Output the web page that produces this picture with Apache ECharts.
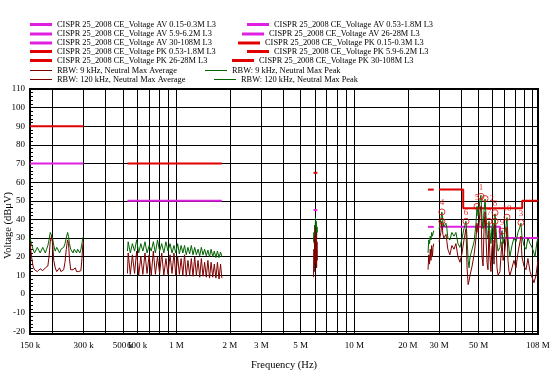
<!DOCTYPE html>
<html><head><meta charset="utf-8">
<script src="https://cdn.jsdelivr.net/npm/echarts@6/dist/echarts.min.js"></script>
<style>html,body{margin:0;padding:0;background:#fff}#c{width:555px;height:372px}</style>
</head><body><div id="c"></div>
<script>
// ---------------- DATA ----------------
// Axis ticks
const xGridMHz = [0.2,0.3,0.4,0.5,0.6,0.7,0.8,0.9,1,2,3,4,5,6,7,8,9,10,20,30,40,50,60,70,80,90,100];
const xTickMHz = [0.15,0.3,0.5,0.6,1,2,3,5,10,20,30,50,108];
const xTickLabels = ['150 k','300 k','500 k','600 k','1 M','2 M','3 M','5 M','10 M','20 M','30 M','50 M','108 M'];
const yTicks = [-20,-10,0,10,20,30,40,50,60,70,80,90,100,110];

// Limit lines (frequency MHz, level dBuV)
const limAV015_f = [0.15,0.3],  limAV015_v = [70,70];
const limPK015_f = [0.15,0.3],  limPK015_v = [90,90];
const limAV053_f = [0.53,1.8],  limAV053_v = [50,50];
const limPK053_f = [0.53,1.8],  limPK053_v = [70,70];
const limAV59_f  = [5.9,6.2],   limAV59_v  = [45,45];
const limPK59_f  = [5.9,6.2],   limPK59_v  = [65,65];
const limAV26_f  = [26,28],     limAV26_v  = [36,36];
const limPK26_f  = [26,28],     limPK26_v  = [56,56];
const limAV30_f  = [30,66,66,108],            limAV30_v = [36,36,30,30];
const limPK30_f  = [30,41,41,88,88,108],      limPK30_v = [56,56,46,46,50,50];

// RBW 9 kHz, 150-300 kHz (kHz)
const segA_f = [150,153,156,159,162,165,168,171,174,177,180,183,186,189,192,195,198,201,204,208,212,216,220,224,228,232,236,240,244,247,250,254,258,262,266,270,274,278,282,286,290,294,297,300];
const segA_pk = [30,27,24,22,23,25,24,22,23,25,24,22,24,26,29,33,34,30,26,23,25,24,22,24,23,25,27,30,33,31,27,24,23,22,24,23,22,24,23,22,24,27,30,31];
const segA_av = [28,20,15,13,12.5,12,13,13.5,13,12.5,13,14,13,15,20,28,31,27,18,14,12,13,14,12,11.5,13,17,24,29,27,19,13,12,13,12,14,12,11.5,12,11,12.5,19,26,28];

// RBW 9 kHz, 530 kHz - 1.8 MHz (kHz)
const segB_f = [530,535,550,565,581,597,613,630,647,665,683,702,721,741,761,782,804,826,849,872,896,920,944,968,991,1015,1038,1062,1086,1110,1135,1160,1186,1212,1239,1266,1294,1322,1351,1380,1410,1440,1471,1502,1534,1566,1599,1632,1666,1700,1735,1770,1800];
const segB_av = [11,22,10.5,21,11,23,10,20,10.5,22,11,21,10,23,10.5,20,11,22,10,19,10.5,21,11,22,10,20,10.5,19,10,21,9.5,18,10,19,9.5,20,10,18,9,19,9.5,17,9,18,8.5,17,9,16,8.5,17,8,16,8.5];
const segB_pk = [23,28,22,27,23,29,22,27,23,28,22,26,23,28,22,29,23,27,22,28,23,27,22,26,22,27,21.5,26,22,26,21,25,21.5,26,21,25,21,24,20.5,25,21,24,20.5,23.5,20,24,20,23,19.5,23,19.5,22.5,20];

// RBW 120 kHz, 5.9-6.2 MHz (MHz)
const segC_f = [5.90,5.93,5.96,5.99,6.02,6.05,6.08,6.11,6.14,6.17,6.20];
const segC_av = [9,24,12,31,16,36,20,33,14,28,18];
const segC_pk = [28,33,27,37,31,41,35,39,30,36,33];

// RBW 120 kHz, 26-28 MHz (MHz)
const segD_f = [26.0,26.25,26.5,26.75,27.0,27.25,27.5,27.75,28.0];
const segD_av = [13,21,16,24,18,26,20,25,27];
const segD_pk = [22,29,27,31,29,33,31,32,34];

// RBW 120 kHz, 30-108 MHz (MHz)
const segE_f = [30.0,30.7,31.1,31.5,31.9,32.8,33.2,33.6,34.5,35.4,36.4,37.3,38.3,39.3,40.4,41.4,42.5,43.1,43.7,44.2,44.8,46.0,47.2,48.4,49.0,49.7,50.3,50.9,51.6,52.3,53.0,53.7,54.4,55.1,55.8,56.5,57.2,58.0,58.7,59.5,60.3,61.1,61.9,62.7,63.5,64.4,65.2,66.0,66.9,67.8,68.7,69.6,70.4,71.3,72.3,73.2,74.2,75.1,77.1,79.1,81.2,83.3,85.5,86.6,87.7,90.0,92.4,94.8,97.4,99.9,102.5,103.9,105.2,106.6,108.0];
const segE_pk = [35,40,44,39,36,38,35,30,29,33,31,33,27,25,30,35,39,30,18,14,20,24,28,38,47,42,46,50,53,40,35,45,51,42,32,30,39,33,27,36,38,30,43,35,27,23,22,25,31,34,27,30,33,36,41,30,24,20,26,30,28,33,36,38,31,26,24,30,27,25,22,20,24,28,30];
const segE_av = [28,33,39,32,30,32,28,24,21,26,24,27,20,17,22,29,35,14,5,7,10,15,21,30,38,33,37,44,47,20,15,35,44,30,17,13,34,20,12,25,29,16,37,27,14,10,9,12,21,28,18,20,24,29,36,18,12,10,14,18,14,22,28,31,20,15,13,19,12,9,6,5,10,14,18];

// Final measurement markers (MHz, dBuV)
const markerF = [51.6,54.4,86.6,31.1,49.0,42.5,57.2,61.9,67.8,72.3];
const markerV = [52.4,51.2,38.3,44,47,39,39,43.6,33.7,41.2];
const markerN = ['1','2','3','4','5','6','7','8','9','10'];
const marker2F = [31.1,61.9];
const marker2V = [39,39];

// ---------------- CHART ----------------
const FONT = 'Liberation Serif';
const AVC = '#E020E0', PKC = '#E00000', AVGC = '#800000', PKTC = '#006400';
const N = {
  av015:'CISPR 25_2008 CE_Voltage AV 0.15-0.3M L3',
  av053:'CISPR 25_2008 CE_Voltage AV 0.53-1.8M L3',
  av59:'CISPR 25_2008 CE_Voltage AV 5.9-6.2M L3',
  av26:'CISPR 25_2008 CE_Voltage AV 26-28M L3',
  av30:'CISPR 25_2008 CE_Voltage AV 30-108M L3',
  pk015:'CISPR 25_2008 CE_Voltage PK 0.15-0.3M L3',
  pk053:'CISPR 25_2008 CE_Voltage PK 0.53-1.8M L3',
  pk59:'CISPR 25_2008 CE_Voltage PK 5.9-6.2M L3',
  pk26:'CISPR 25_2008 CE_Voltage PK 26-28M L3',
  pk30:'CISPR 25_2008 CE_Voltage PK 30-108M L3',
  a9:'RBW: 9 kHz, Neutral Max Average',
  p9:'RBW: 9 kHz, Neutral Max Peak',
  a120:'RBW: 120 kHz, Neutral Max Average',
  p120:'RBW: 120 kHz, Neutral Max Peak'
};
const pts = (f, v, m) => f.map((x, i) => [x * m, v[i]]);
function lineS(name, data, color, width) {
  return {type:'line', name, data, symbol:'none', color,
    lineStyle:{color, width}, emphasis:{disabled:true}, animation:false};
}
const series = [
  lineS(N.av015, pts(limAV015_f, limAV015_v, 1e6), AVC, 2),
  lineS(N.pk015, pts(limPK015_f, limPK015_v, 1e6), PKC, 2),
  lineS(N.av053, pts(limAV053_f, limAV053_v, 1e6), AVC, 2),
  lineS(N.pk053, pts(limPK053_f, limPK053_v, 1e6), PKC, 2),
  lineS(N.av59, pts(limAV59_f, limAV59_v, 1e6), AVC, 2),
  lineS(N.pk59, pts(limPK59_f, limPK59_v, 1e6), PKC, 2),
  lineS(N.av26, pts(limAV26_f, limAV26_v, 1e6), AVC, 2),
  lineS(N.pk26, pts(limPK26_f, limPK26_v, 1e6), PKC, 2),
  lineS(N.av30, pts(limAV30_f, limAV30_v, 1e6), AVC, 2),
  lineS(N.pk30, pts(limPK30_f, limPK30_v, 1e6), PKC, 2),
  lineS(N.p9, pts(segA_f, segA_pk, 1e3), PKTC, 1),
  lineS(N.p9, pts(segB_f, segB_pk, 1e3), PKTC, 1),
  lineS(N.a9, pts(segA_f, segA_av, 1e3), AVGC, 1),
  lineS(N.a9, pts(segB_f, segB_av, 1e3), AVGC, 1),
  lineS(N.p120, pts(segC_f, segC_pk, 1e6), PKTC, 1),
  lineS(N.p120, pts(segD_f, segD_pk, 1e6), PKTC, 1),
  lineS(N.p120, pts(segE_f, segE_pk, 1e6), PKTC, 1),
  lineS(N.a120, pts(segC_f, segC_av, 1e6), AVGC, 1),
  lineS(N.a120, pts(segD_f, segD_av, 1e6), AVGC, 1),
  lineS(N.a120, pts(segE_f, segE_av, 1e6), AVGC, 1),
  {type:'scatter', name:'markers', animation:false, symbol:'circle', symbolSize:6,
   itemStyle:{color:'rgba(255,255,255,0)', borderColor:PKC, borderWidth:1},
   data: markerF.map((f, i) => ({value:[f*1e6, markerV[i]], name:markerN[i],
     label:{position: markerN[i] === '2' ? 'right' : 'top'}})),
   label:{show:true, formatter:p => p.name, color:PKC, fontSize:9, fontFamily:FONT, distance:1},
   z:5},
  {type:'scatter', name:'markers2', animation:false, symbol:'circle', symbolSize:6,
   itemStyle:{color:'rgba(255,255,255,0)', borderColor:PKC, borderWidth:1},
   data: pts(marker2F, marker2V, 1e6), z:5}
];

const legendSlots = [
  [N.av015, 30, 25, 3], [N.av59, 30, 34.5, 3], [N.av30, 30, 43.5, 3], [N.pk053, 30, 52, 3],
  [N.pk26, 30, 61, 3], [N.a9, 30, 71, 1], [N.a120, 30, 80, 1],
  [N.av053, 247, 25, 3], [N.av26, 242, 34.5, 3], [N.pk015, 238, 43.5, 3], [N.pk59, 247, 52, 3],
  [N.pk30, 232, 61, 3], [N.p9, 205, 71, 1], [N.p120, 214, 80, 1]
];
const legends = legendSlots.map(s => ({
  data:[s[0]], left:s[1], top:s[2] - 4.5, icon:'rect', itemWidth:22, itemHeight:s[3],
  padding:0, selectedMode:false,
  textStyle:{fontFamily:FONT, fontSize:8.4, color:'#000', padding:[0,0,0,0]}
}));

const minorY = [];
for (let v = -20; v <= 110; v += 2) minorY.push(v);

const chart = echarts.init(document.getElementById('c'), null, {renderer:'canvas'});
chart.setOption({
  animation:false,
  backgroundColor:'#fff',
  textStyle:{fontFamily:FONT},
  legend: legends,
  grid:{left:30, right:17, top:89, bottom:38, show:true, borderColor:'#000', borderWidth:2,
        containLabel:false, outerBoundsMode:'none'},
  xAxis:{
    type:'log', logBase:10, min:150000, max:108000000,
    name:'Frequency (Hz)', nameLocation:'middle', nameGap:26, nameMoveOverlap:false,
    nameTextStyle:{fontFamily:FONT, fontSize:10.5, color:'#000'},
    axisLine:{show:true, onZero:false, lineStyle:{color:'#000', width:1}},
    axisTick:{show:true, inside:true, length:4, customValues:xGridMHz.map(v => v*1e6), lineStyle:{color:'#000'}},
    axisLabel:{show:true, customValues:xTickMHz.map(v => v*1e6), margin:7, fontSize:9, fontFamily:FONT, color:'#000',
      hideOverlap:false,
      formatter:(v) => { const i = xTickMHz.findIndex(t => Math.abs(t*1e6 - v) < 1); return i >= 0 ? xTickLabels[i] : ''; }},
    splitLine:{show:true, lineStyle:{color:'#000', width:1}},
    minorTick:{show:false}, minorSplitLine:{show:false}
  },
  yAxis:[{
    type:'value', min:-21.5, max:110, position:'left',
    name:'Voltage (dBμV)', nameLocation:'middle', nameGap:16, nameRotate:90, nameMoveOverlap:false,
    nameTextStyle:{fontFamily:FONT, fontSize:10.5, color:'#000', padding:[0,28,0,0]},
    axisLine:{show:true, onZero:false, lineStyle:{color:'#000', width:1}},
    axisTick:{show:true, inside:true, length:5, customValues:yTicks, lineStyle:{color:'#000'}},
    axisLabel:{show:true, customValues:yTicks, margin:5, fontSize:9, fontFamily:FONT, color:'#000'},
    splitLine:{show:true, lineStyle:{color:'#000', width:1}}
  },{
    type:'value', min:-21.5, max:110, position:'left',
    axisLine:{show:false},
    axisTick:{show:true, inside:true, length:3, customValues:minorY, lineStyle:{color:'#000'}},
    axisLabel:{show:false}, splitLine:{show:false}
  }],
  series: series
});
</script>
</body></html>
